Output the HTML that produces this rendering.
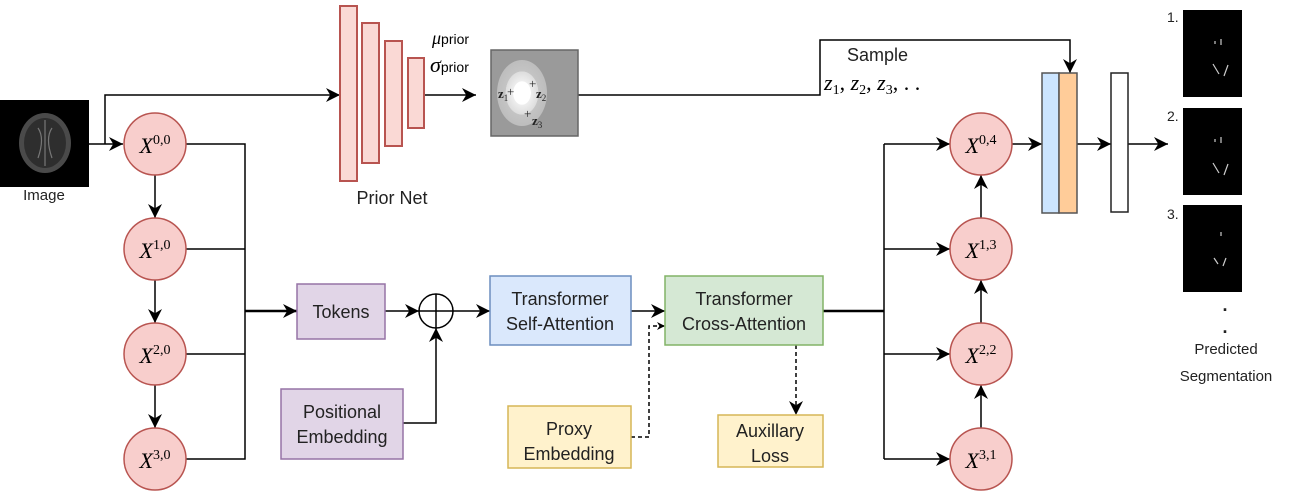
<!DOCTYPE html>
<html><head><meta charset="utf-8"><style>
body{margin:0;background:#fff;}
svg{display:block;font-family:"Liberation Sans",sans-serif;}
.m{font-family:"Liberation Serif",serif;font-style:italic;}
</style></head><body>
<svg width="1297" height="496" viewBox="0 0 1297 496" xmlns="http://www.w3.org/2000/svg">
<defs>
<marker id="a" viewBox="0 0 10 10" refX="10" refY="5" markerWidth="8" markerHeight="8" orient="auto" markerUnits="userSpaceOnUse"><path d="M0,0 L10,5 L0,10 L3,5z" fill="#000"/></marker>
<marker id="b" viewBox="0 0 10 10" refX="10" refY="5" markerWidth="14" markerHeight="14" orient="auto" markerUnits="userSpaceOnUse"><path d="M0,0 L10,5 L0,10 L3,5z" fill="#000"/></marker>
<radialGradient id="g" cx="0.5" cy="0.5" r="0.5"><stop offset="0" stop-color="#fff"/><stop offset="0.35" stop-color="#fff"/><stop offset="0.36" stop-color="#eee"/><stop offset="0.65" stop-color="#ddd"/><stop offset="0.66" stop-color="#c4c4c4"/><stop offset="1" stop-color="#bdbdbd"/></radialGradient>
</defs>
<g stroke="#000" stroke-width="1.5" fill="none">
<line x1="89" y1="144" x2="123" y2="144" marker-end="url(#b)"/>
<polyline points="105,144 105,95 340,95" marker-end="url(#b)"/>
<line x1="424" y1="95" x2="476" y2="95" marker-end="url(#b)"/>
<polyline points="578,95 820,95 820,40 1070,40 1070,73" marker-end="url(#b)"/>
<line x1="155" y1="175" x2="155" y2="218" marker-end="url(#b)"/>
<line x1="155" y1="280" x2="155" y2="323" marker-end="url(#b)"/>
<line x1="155" y1="385" x2="155" y2="428" marker-end="url(#b)"/>
<polyline points="186,144 245,144 245,459 186,459"/>
<line x1="186" y1="249" x2="245" y2="249"/>
<line x1="186" y1="354" x2="245" y2="354"/>
<line x1="245" y1="311" x2="297" y2="311" stroke-width="2.5" marker-end="url(#b)"/>
<line x1="385" y1="311" x2="419" y2="311" marker-end="url(#b)"/>
<polyline points="403,423 436,423 436,328" marker-end="url(#b)"/>
<line x1="453" y1="311" x2="490" y2="311" marker-end="url(#b)"/>
<line x1="631" y1="311" x2="665" y2="311" marker-end="url(#b)"/>
<polyline points="631,437 649,437 649,326 665,326" stroke-dasharray="4,3" marker-end="url(#a)"/>
<line x1="796" y1="345" x2="796" y2="415" stroke-dasharray="4,3" marker-end="url(#b)"/>
<line x1="823" y1="311" x2="884" y2="311" stroke-width="2.5"/>
<line x1="884" y1="144" x2="884" y2="459"/>
<line x1="884" y1="144" x2="950" y2="144" marker-end="url(#b)"/>
<line x1="884" y1="249" x2="950" y2="249" marker-end="url(#b)"/>
<line x1="884" y1="354" x2="950" y2="354" marker-end="url(#b)"/>
<line x1="884" y1="459" x2="950" y2="459" marker-end="url(#b)"/>
<line x1="981" y1="428" x2="981" y2="385" marker-end="url(#b)"/>
<line x1="981" y1="323" x2="981" y2="280" marker-end="url(#b)"/>
<line x1="981" y1="218" x2="981" y2="175" marker-end="url(#b)"/>
<line x1="1012" y1="144" x2="1042" y2="144" marker-end="url(#b)"/>
<line x1="1077" y1="144" x2="1111" y2="144" marker-end="url(#b)"/>
<line x1="1128" y1="144" x2="1168" y2="144" marker-end="url(#b)"/>
</g>
<rect x="0" y="100" width="89" height="87" fill="#000"/>
<ellipse cx="45" cy="143" rx="26" ry="30" fill="#4a4a4a"/>
<ellipse cx="45" cy="143" rx="21" ry="25" fill="#2e2e2e"/>
<path d="M38,128 q7,10 0,30 M52,128 q-7,10 0,30 M45,120 v46" stroke="#777" stroke-width="1.2" fill="none"/>
<text x="44" y="200" font-size="15" text-anchor="middle" fill="#222">Image</text>
<g fill="#fad9d5" stroke="#b85450" stroke-width="2">
<rect x="340" y="6" width="17" height="175"/>
<rect x="362" y="23" width="17" height="140"/>
<rect x="385" y="41" width="17" height="105"/>
<rect x="408" y="58" width="16" height="70"/>
</g>
<text x="392" y="204" font-size="18" text-anchor="middle" fill="#222">Prior Net</text>
<text x="432" y="44" font-size="18" fill="#000"><tspan class="m">μ</tspan><tspan font-size="14">prior</tspan></text>
<text x="430" y="72" font-size="22" fill="#000"><tspan class="m">σ</tspan><tspan font-size="14">prior</tspan></text>
<rect x="491" y="50" width="87" height="86" fill="#9a9a9a" stroke="#666" stroke-width="1.5"/>
<ellipse cx="522" cy="93" rx="25" ry="33" fill="url(#g)"/>
<g font-family="Liberation Serif,serif" font-weight="bold" font-size="13" fill="#222">
<text x="498" y="98">z<tspan font-size="9" font-weight="normal" dy="3">1</tspan></text>
<text x="536" y="98">z<tspan font-size="9" font-weight="normal" dy="3">2</tspan></text>
<text x="532" y="125">z<tspan font-size="9" font-weight="normal" dy="3">3</tspan></text>
<text x="507" y="96" font-weight="normal">+</text><text x="529" y="88" font-weight="normal">+</text><text x="524" y="118" font-weight="normal">+</text>
</g>
<text x="847" y="61" font-size="18" fill="#222">Sample</text>
<text x="824" y="90" font-size="22" class="m" fill="#000">z<tspan font-size="14" font-style="normal" dy="4">1</tspan><tspan dy="-4" font-style="normal">, </tspan>z<tspan font-size="14" font-style="normal" dy="4">2</tspan><tspan dy="-4" font-style="normal">, </tspan>z<tspan font-size="14" font-style="normal" dy="4">3</tspan><tspan dy="-4" font-style="normal">, . .</tspan></text>
<g fill="#f8cecc" stroke="#b85450" stroke-width="1.5">
<circle cx="155" cy="144" r="31"/><circle cx="155" cy="249" r="31"/><circle cx="155" cy="354" r="31"/><circle cx="155" cy="459" r="31"/>
<circle cx="981" cy="144" r="31"/><circle cx="981" cy="249" r="31"/><circle cx="981" cy="354" r="31"/><circle cx="981" cy="459" r="31"/>
</g>
<g font-size="22" text-anchor="middle" fill="#000">
<text x="155" y="153"><tspan class="m">X</tspan><tspan font-family="Liberation Serif,serif" font-size="14" dy="-9">0,0</tspan></text>
<text x="155" y="258"><tspan class="m">X</tspan><tspan font-family="Liberation Serif,serif" font-size="14" dy="-9">1,0</tspan></text>
<text x="155" y="363"><tspan class="m">X</tspan><tspan font-family="Liberation Serif,serif" font-size="14" dy="-9">2,0</tspan></text>
<text x="155" y="468"><tspan class="m">X</tspan><tspan font-family="Liberation Serif,serif" font-size="14" dy="-9">3,0</tspan></text>
<text x="981" y="153"><tspan class="m">X</tspan><tspan font-family="Liberation Serif,serif" font-size="14" dy="-9">0,4</tspan></text>
<text x="981" y="258"><tspan class="m">X</tspan><tspan font-family="Liberation Serif,serif" font-size="14" dy="-9">1,3</tspan></text>
<text x="981" y="363"><tspan class="m">X</tspan><tspan font-family="Liberation Serif,serif" font-size="14" dy="-9">2,2</tspan></text>
<text x="981" y="468"><tspan class="m">X</tspan><tspan font-family="Liberation Serif,serif" font-size="14" dy="-9">3,1</tspan></text>
</g>
<rect x="297" y="284" width="88" height="55" fill="#e1d5e7" stroke="#9673a6" stroke-width="1.5"/>
<rect x="281" y="389" width="122" height="70" fill="#e1d5e7" stroke="#9673a6" stroke-width="1.5"/>
<rect x="490" y="276" width="141" height="69" fill="#dae8fc" stroke="#6c8ebf" stroke-width="1.5"/>
<rect x="665" y="276" width="158" height="69" fill="#d5e8d4" stroke="#82b366" stroke-width="1.5"/>
<rect x="508" y="406" width="123" height="62" fill="#fff2cc" stroke="#d6b656" stroke-width="1.5"/>
<rect x="718" y="415" width="105" height="52" fill="#fff2cc" stroke="#d6b656" stroke-width="1.5"/>
<circle cx="436" cy="311" r="17" fill="#fff" stroke="#000" stroke-width="1.5"/>
<line x1="419" y1="311" x2="453" y2="311" stroke="#000" stroke-width="1.5"/>
<line x1="436" y1="294" x2="436" y2="328" stroke="#000" stroke-width="1.5"/>
<g font-size="18" text-anchor="middle" fill="#222">
<text x="341" y="318">Tokens</text>
<text x="342" y="418">Positional</text><text x="342" y="443">Embedding</text>
<text x="560" y="305">Transformer</text><text x="560" y="330">Self-Attention</text>
<text x="744" y="305">Transformer</text><text x="744" y="330">Cross-Attention</text>
<text x="569" y="435">Proxy</text><text x="569" y="460">Embedding</text>
<text x="770" y="437">Auxillary</text><text x="770" y="462">Loss</text>
</g>
<rect x="1042" y="73" width="17" height="140" fill="#cce5ff" stroke="#555" stroke-width="1.5"/>
<rect x="1059" y="73" width="18" height="140" fill="#ffcc99" stroke="#555" stroke-width="1.5"/>
<rect x="1111" y="73" width="17" height="139" fill="#fff" stroke="#222" stroke-width="1.5"/>
<g fill="#000"><rect x="1183" y="10" width="59" height="87"/><rect x="1183" y="108" width="59" height="87"/><rect x="1183" y="205" width="59" height="87"/></g>
<g stroke="#ccc" stroke-width="1.2">
<line x1="1215" y1="41" x2="1215" y2="44"/><line x1="1221" y1="39" x2="1221" y2="45"/><line x1="1213" y1="64" x2="1219" y2="74"/><line x1="1228" y1="65" x2="1224" y2="76"/>
<line x1="1215" y1="139" x2="1215" y2="142"/><line x1="1221" y1="137" x2="1221" y2="143"/><line x1="1213" y1="163" x2="1219" y2="173"/><line x1="1228" y1="164" x2="1224" y2="175"/>
<line x1="1221" y1="232" x2="1221" y2="236"/><line x1="1214" y1="258" x2="1218" y2="264"/><line x1="1226" y1="258" x2="1223" y2="266"/>
</g>
<g font-size="14" fill="#222">
<text x="1167" y="22">1.</text><text x="1167" y="121">2.</text><text x="1167" y="219">3.</text>
<text x="1225" y="311" font-size="18" text-anchor="middle" font-weight="bold">.</text><text x="1225" y="333" font-size="18" text-anchor="middle" font-weight="bold">.</text>
<text x="1226" y="354" font-size="15" text-anchor="middle">Predicted</text><text x="1226" y="381" font-size="15" text-anchor="middle">Segmentation</text>
</g>
</svg>
</body></html>
